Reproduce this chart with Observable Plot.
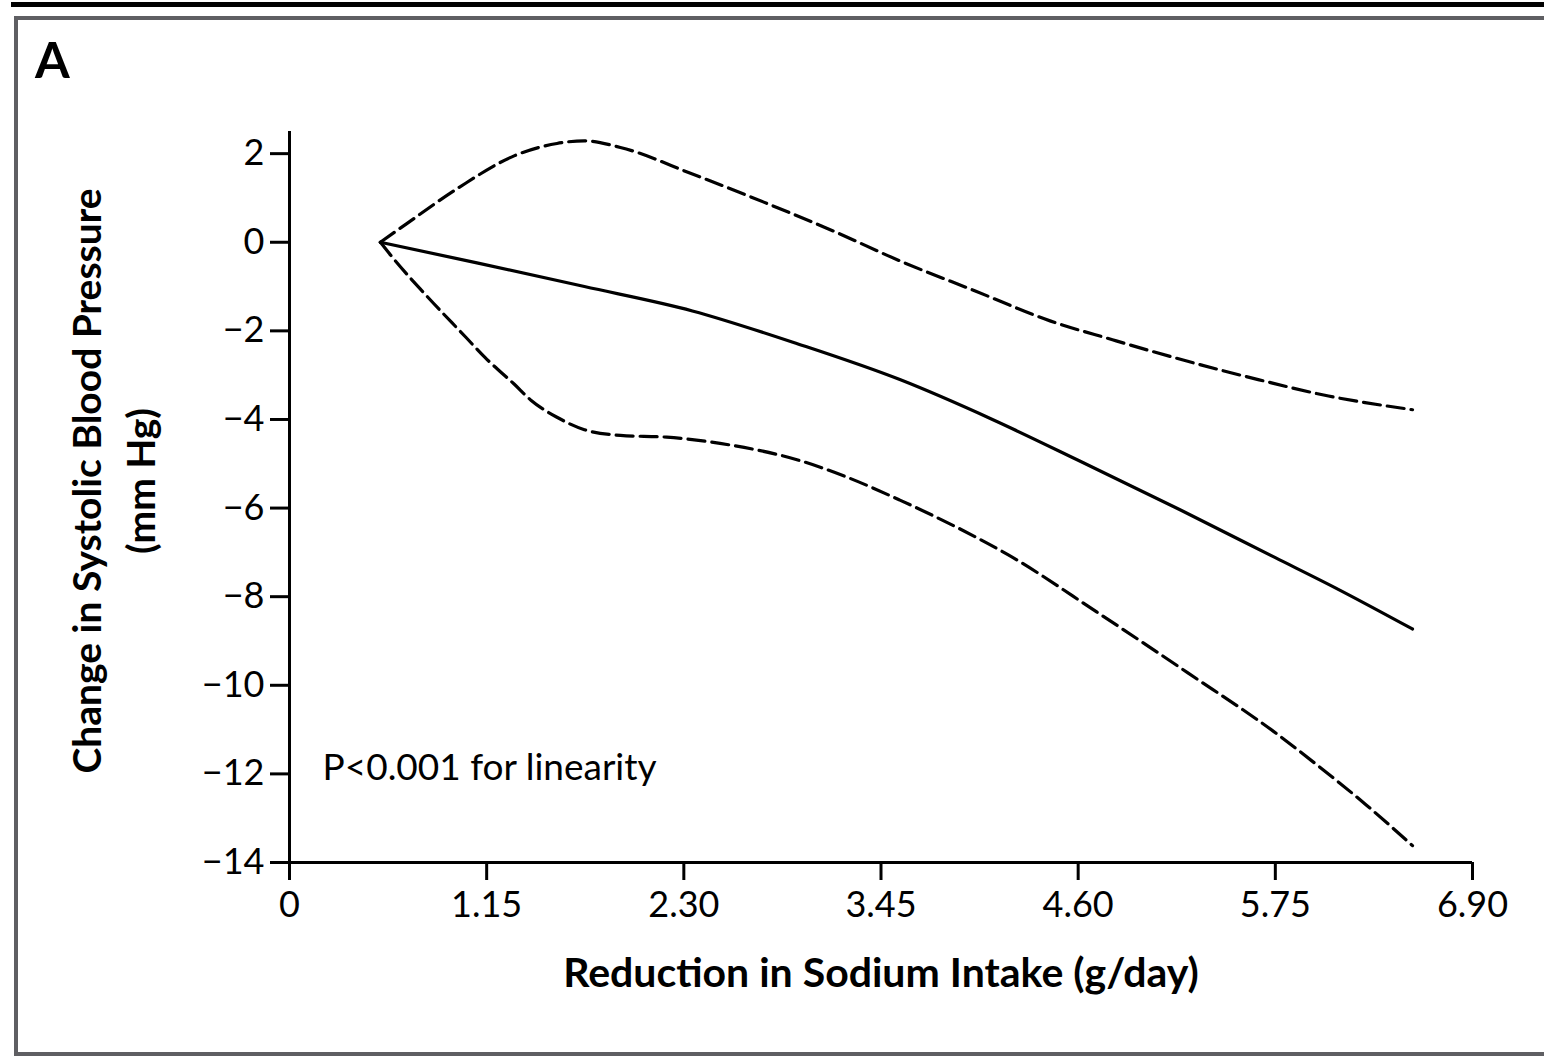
<!DOCTYPE html>
<html>
<head>
<meta charset="utf-8">
<script src="https://cdn.jsdelivr.net/npm/d3@7"></script>
<script src="https://cdn.jsdelivr.net/npm/@observablehq/plot@0.6"></script>
<style>
  body { margin: 0; background: #fff; }
  #wrap { position: relative; width: 1544px; height: 1056px; overflow: hidden; background: #fff; font-family: Lato, sans-serif; }
  #topbar { position: absolute; left: 11px; top: 2px; width: 1533px; height: 5px; background: #000; }
  #box { position: absolute; left: 14px; top: 16px; width: 1560px; height: 1040px; box-sizing: border-box;
         border-left: 4px solid #5f5f63; border-top: 4px solid #5f5f63; border-bottom: 4px solid #5f5f63; }
  #panel { position: absolute; left: 35px; top: 34px; font: bold 50px Lato, sans-serif; line-height: 1; color: #000; }
  #chart { position: absolute; left: 0; top: 0; }
</style>
</head>
<body>
<div id="wrap">
  <div id="topbar"></div>
  <div id="box"></div>
  <div id="panel">A</div>
  <div id="chart"></div>
</div>
<script>
// Tick values and labels
const xTicks = [0, 1.15, 2.30, 3.45, 4.60, 5.75, 6.90];
const xTickLabels = ["0", "1.15", "2.30", "3.45", "4.60", "5.75", "6.90"];
const yTicks = [2, 0, -2, -4, -6, -8, -10, -12, -14];

// Estimated change (solid line)
const estX = [0.53, 1.1, 1.72, 2.35, 2.97, 3.56, 4.1, 4.6, 5.2, 5.75, 6.1, 6.55];
const estY = [0, -0.47, -1.0, -1.55, -2.3, -3.1, -4.0, -4.92, -6.05, -7.12, -7.8, -8.73];

// Upper confidence limit (dashed)
const upX = [0.53, 0.68, 0.99, 1.31, 1.56, 1.72, 1.93, 2.35, 2.77, 3.18, 3.56, 4.0, 4.44, 4.8, 5.02, 5.65, 6.06, 6.55];
const upY = [0, 0.41, 1.24, 1.95, 2.23, 2.29, 2.14, 1.54, 0.9, 0.24, -0.42, -1.1, -1.78, -2.2, -2.45, -3.1, -3.47, -3.78];

// Lower confidence limit (dashed)
const loX = [0.53, 0.6, 0.79, 1.03, 1.14, 1.31, 1.41, 1.56, 1.72, 1.93, 2.2, 2.56, 2.97, 3.25, 3.56, 3.9, 4.19, 4.71, 5.24, 5.76, 6.0, 6.28, 6.55];
const loY = [0, -0.34, -1.17, -2.15, -2.6, -3.2, -3.57, -3.95, -4.23, -4.36, -4.4, -4.57, -4.92, -5.3, -5.82, -6.45, -7.05, -8.35, -9.72, -11.1, -11.82, -12.7, -13.62];

const xTitle = "Reduction in Sodium Intake (g/day)";
const yTitle1 = "Change in Systolic Blood Pressure";
const yTitle2 = "(mm Hg)";
const pNote = "P<0.001 for linearity";

const toRows = (xs, ys) => xs.map((x, i) => ({x, y: ys[i]}));
const est = toRows(estX, estY);
const up = toRows(upX, upY);
const lo = toRows(loX, loY);

const font = "Lato, sans-serif";

const chart = Plot.plot({
  width: 1544,
  height: 1056,
  marginLeft: 289,
  marginRight: 72,
  marginTop: 131,
  marginBottom: 194,
  style: { background: "transparent", fontFamily: font, fontSize: "36px", color: "#000", overflow: "visible" },
  x: { domain: [0, 6.9] },
  y: { domain: [-14, 2.5] },
  marks: [
    Plot.axisY(yTicks, { tickSize: 19, tickPadding: 6, strokeWidth: 3, fontSize: 36, label: null }),
    Plot.axisX(xTicks, { tickSize: 18, tickPadding: 11, strokeWidth: 3, fontSize: 36, label: null,
      tickFormat: d => xTickLabels[xTicks.indexOf(d)] }),
    Plot.ruleX([0], { y1: -14, y2: 2.5, strokeWidth: 3 }),
    Plot.ruleY([-14], { strokeWidth: 3 }),
    Plot.line(up, { x: "x", y: "y", stroke: "#000", strokeWidth: 3.2, strokeDasharray: "17,7", curve: "monotone-x" }),
    Plot.line(lo, { x: "x", y: "y", stroke: "#000", strokeWidth: 3.2, strokeDasharray: "17,7", curve: "monotone-x" }),
    Plot.line(est, { x: "x", y: "y", stroke: "#000", strokeWidth: 3.2, curve: "monotone-x" }),
    Plot.text([xTitle], { text: d => d, frameAnchor: "bottom", dy: 124, fontSize: 41, fontWeight: "bold" }),
    Plot.text([yTitle1], { text: d => d, frameAnchor: "left", textAnchor: "middle", rotate: -90, dx: -201, dy: -16, fontSize: 39, fontWeight: "bold" }),
    Plot.text([yTitle2], { text: d => d, frameAnchor: "left", textAnchor: "middle", rotate: -90, dx: -147, dy: -16, fontSize: 39, fontWeight: "bold" }),
    Plot.text([pNote], { text: d => d, frameAnchor: "bottom-left", textAnchor: "start", dx: 33, dy: -83, fontSize: 37 })
  ]
});
document.getElementById("chart").appendChild(chart);
</script>
</body>
</html>
